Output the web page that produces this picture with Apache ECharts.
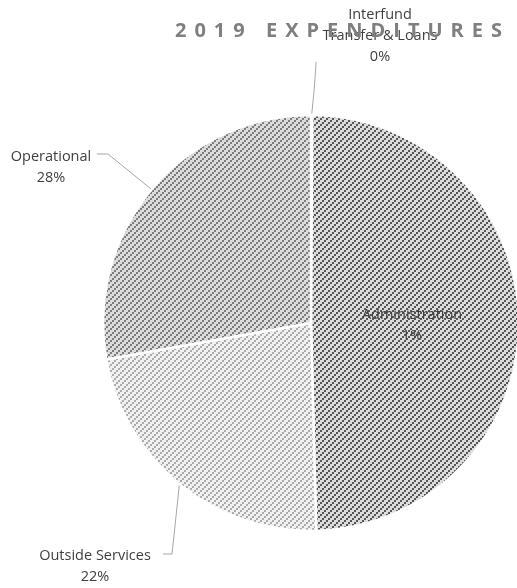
<!DOCTYPE html>
<html>
<head>
<meta charset="utf-8">
<script src="https://cdn.jsdelivr.net/npm/echarts@6/dist/echarts.min.js"></script>
<style>
html,body{margin:0;padding:0;background:#fff;}
#chart{width:517px;height:588px;}
</style>
</head>
<body>
<div id="chart"></div>
<script>
const titleText = '2019 EXPENDITURES';
const categories = ['Interfund\nTransfer & Loans', 'Administration', 'Outside Services', 'Operational'];
const values = [0.1, 49.5, 22.6, 27.8];
const pctLabels = ['0%', '1%', '22%', '28%'];

function makePattern(bg, fg) {
  const c = document.createElement('canvas');
  c.width = 6; c.height = 6;
  const ctx = c.getContext('2d');
  ctx.fillStyle = bg; ctx.fillRect(0, 0, 6, 6);
  ctx.fillStyle = fg;
  for (let x = 0; x < 6; x++) {
    for (let y = 0; y < 6; y++) {
      if ((Math.floor(x / 2) + Math.floor(y / 2)) % 3 === 0) ctx.fillRect(x, y, 1, 1);
    }
  }
  return { image: c, repeat: 'repeat' };
}

const fills = [
  makePattern('#d9d9d9', '#595959'),
  makePattern('#dcdcdc', '#555555'),
  makePattern('#f1f1f1', '#ababab'),
  makePattern('#dcdcdc', '#7c7c7c')
];

const chart = echarts.init(document.getElementById('chart'), null, { renderer: 'canvas' });
// title drawn on its own canvas layer so that letter spacing only affects it
try {
  const layer = chart.getZr().painter.getLayer(5);
  if (layer && layer.ctx) layer.ctx.letterSpacing = '8px';
} catch (e) {}

const data = categories.map((name, i) => {
  const item = { name: name, value: values[i], itemStyle: { color: fills[i] } };
  if (i === 1) {
    item.label = { position: 'inner' };
    item.labelLine = { show: false };
  }
  return item;
});

chart.setOption({
  animation: false,
  title: {
    text: titleText,
    left: 170,
    top: 16,
    zlevel: 5,
    textStyle: { fontFamily: 'Open Sans', fontWeight: 'bold', fontSize: 20, color: '#7f7f7f' }
  },
  series: [{
    type: 'pie',
    center: [311, 323],
    radius: 208,
    startAngle: 90,
    clockwise: true,
    avoidLabelOverlap: false,
    itemStyle: { borderColor: '#ffffff', borderWidth: 2.5 },
    label: {
      show: true,
      position: 'outside',
      fontFamily: 'Open Sans',
      fontSize: 14.5,
      lineHeight: 21,
      color: '#404040',
      formatter: function (p) { return p.name + '\n' + pctLabels[p.dataIndex]; }
    },
    labelLine: { show: true, length: 40, length2: 10, lineStyle: { color: '#a6a6a6', width: 1 } },
    labelLayout: function (p) {
      const pts = p.labelLinePoints;
      const s = pts ? pts[0] : null;
      if (p.dataIndex === 0) {
        return { x: 380, y: 36, align: 'center', verticalAlign: 'middle',
          labelLinePoints: s ? [s, [s[0] + 2.5, 90], [s[0] + 4.5, 62]] : undefined };
      }
      if (p.dataIndex === 1) return { dx: -6, dy: 3 };
      if (p.dataIndex === 2) {
        return { x: 95, y: 566, align: 'center', verticalAlign: 'middle',
          labelLinePoints: s ? [s, [172, 554], [163, 554]] : undefined };
      }
      if (p.dataIndex === 3) {
        return { x: 51, y: 167, align: 'center', verticalAlign: 'middle',
          labelLinePoints: s ? [s, [108, 154], [97, 154]] : undefined };
      }
      return {};
    },
    emphasis: { disabled: true },
    data: data
  }]
});
</script>
</body>
</html>
